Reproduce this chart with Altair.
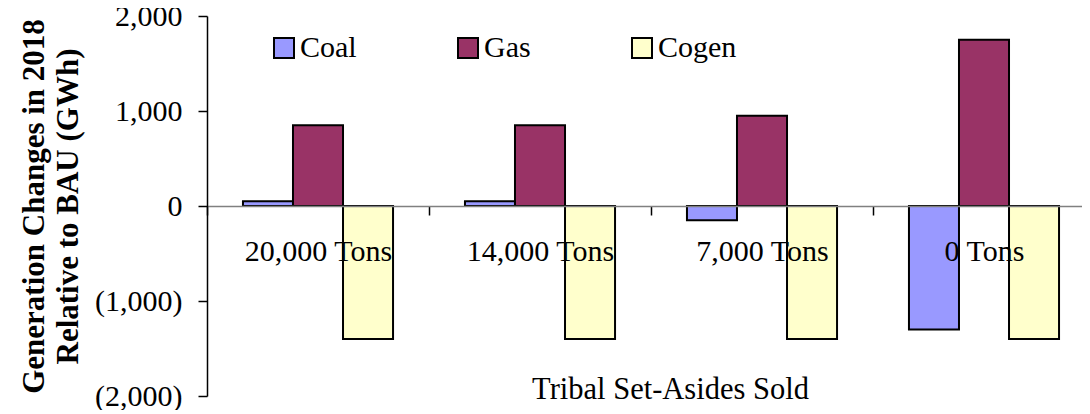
import altair as alt
import pandas as pd

categories = ["20,000 Tons", "14,000 Tons", "7,000 Tons", "0 Tons"]
series = ["Coal", "Gas", "Cogen"]
coal = [50, 50, -150, -1300]
gas = [850, 850, 950, 1750]
cogen = [-1400, -1400, -1400, -1400]
colors = ["#9999FF", "#993366", "#FFFFCC"]

rows = []
for i, c in enumerate(categories):
    for s, vals in zip(series, [coal, gas, cogen]):
        rows.append({"Scenario": c, "Fuel": s, "Change": vals[i]})
df = pd.DataFrame(rows)

FONT = "Liberation Serif"

label_expr = ("datum.value < 0 ? '(' + format(-datum.value, ',') + ')' : "
              "format(datum.value, ',') + '\u00a0'")

chart = alt.Chart(df).mark_bar(stroke="black", strokeWidth=2).encode(
    x=alt.X(
        "Scenario:N", sort=categories,
        scale=alt.Scale(paddingInner=0.324, paddingOuter=0.162, range=[0, 888]),
        axis=alt.Axis(
            title="Tribal Set-Asides Sold", labelAngle=0, offset=-190,
            domainColor="#808080", domainWidth=1.5, tickColor="black",
            tickSize=9, tickWidth=1.5, bandPosition=0, tickOffset=-36,
            labelOffset=36, labelPadding=21,
            labelFont=FONT, labelFontSize=30, labelColor="black", labelLimit=0,
            titleFont=FONT, titleFontSize=30.5, titleFontWeight="normal",
            titleColor="black", titleX=463, titleY=192,
            titleBaseline="alphabetic", zindex=1,
        ),
    ),
    xOffset=alt.XOffset("Fuel:N", sort=series,
                        scale=alt.Scale(paddingInner=0, paddingOuter=0)),
    y=alt.Y(
        "Change:Q",
        scale=alt.Scale(domain=[-2000, 2000], nice=False),
        axis=alt.Axis(
            values=[-2000, -1000, 0, 1000, 2000], labelExpr=label_expr,
            grid=False, domainColor="black", domainWidth=1.5,
            tickColor="black", tickSize=9, tickWidth=1.5, labelPadding=16,
            labelFont=FONT, labelFontSize=30, labelColor="black",
            title=["Generation Changes in 2018", "Relative to BAU (GWh)"],
            titleFont=FONT, titleFontSize=31, titleFontWeight="bold",
            titleColor="black", titleAngle=270, titleX=-173, titleY=190,
            titleBaseline="middle", titleLineHeight=34, zindex=1,
        ),
    ),
    color=alt.Color(
        "Fuel:N", sort=series,
        scale=alt.Scale(domain=series, range=colors),
        legend=alt.Legend(
            orient="none", legendX=62, legendY=17, direction="horizontal",
            title=None, symbolType="square", symbolSize=400,
            symbolStrokeColor="black", symbolStrokeWidth=2, symbolOpacity=1,
            labelFont=FONT, labelFontSize=30, labelColor="black",
            labelOffset=1, columnPadding=96, labelLimit=0,
        ),
    ),
).properties(
    width=875, height=380,
    autosize=alt.AutoSizeParams(type="none"),
    padding={"left": 199, "top": 8, "right": 0, "bottom": 14},
    background="white",
).configure_view(stroke=None)

chart.save("out.html", embed_options={"renderer": "svg", "actions": False})
